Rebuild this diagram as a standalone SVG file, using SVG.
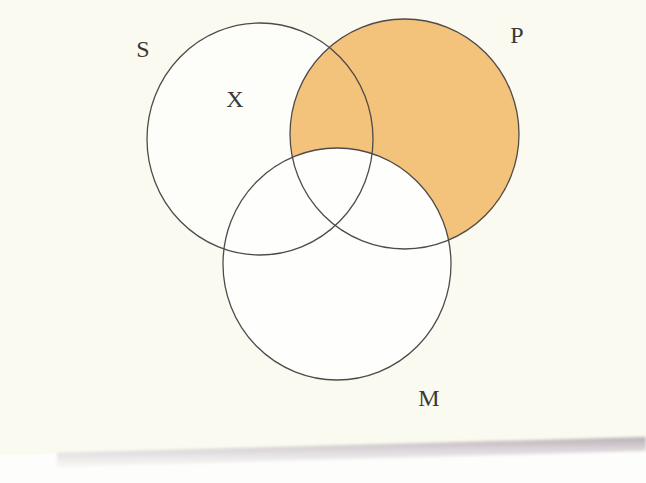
<svg xmlns="http://www.w3.org/2000/svg" width="646" height="483" viewBox="0 0 646 483">
  <defs>
    <style>
      .set { stroke: #4f4b48; stroke-width: 1.3; }
      .lbl { font-family: "Liberation Serif", "Times New Roman", serif; font-size: 24px; fill: #3a3836; text-anchor: middle; }
    </style>
    <linearGradient id="shadow" x1="0" y1="0" x2="0" y2="1">
      <stop offset="0" stop-color="#aea4ab" stop-opacity="0.9"/>
      <stop offset="1" stop-color="#e8e4e6" stop-opacity="0.25"/>
    </linearGradient>
    <filter id="blur" x="-5%" y="-50%" width="110%" height="200%">
      <feGaussianBlur stdDeviation="1.5"/>
    </filter>
  </defs>

  <!-- background page -->
  <rect x="0" y="0" width="646" height="483" fill="#fdfdfb"/>
  <polygon points="0,0 646,0 646,438 57,454 0,455" fill="#fbfaf0"/>
  <polygon points="57,453 646,437 646,451 57,467" fill="url(#shadow)" filter="url(#blur)"/>

  <!-- fills -->
  <g id="fills">
    <ellipse cx="260" cy="139" rx="113" ry="116" fill="#fdfdf9"/>
    <ellipse cx="404.5" cy="134" rx="114.5" ry="115" fill="#f3c27b"/>
    <ellipse cx="337" cy="264" rx="114" ry="116" fill="#fefefc"/>
  </g>

  <!-- circles (nodes) -->
  <g id="S">
    <ellipse class="set" cx="260" cy="139" rx="113" ry="116" fill="none"/>
    <text class="lbl" x="143" y="57">S</text>
    <text class="lbl" x="235" y="107">X</text>
  </g>
  <g id="P">
    <ellipse class="set" cx="404.5" cy="134" rx="114.5" ry="115" fill="none"/>
    <text class="lbl" x="517" y="43">P</text>
  </g>
  <g id="M">
    <ellipse class="set" cx="337" cy="264" rx="114" ry="116" fill="none"/>
    <text class="lbl" x="429" y="406">M</text>
  </g>
  <g id="connectors"/>
</svg>
